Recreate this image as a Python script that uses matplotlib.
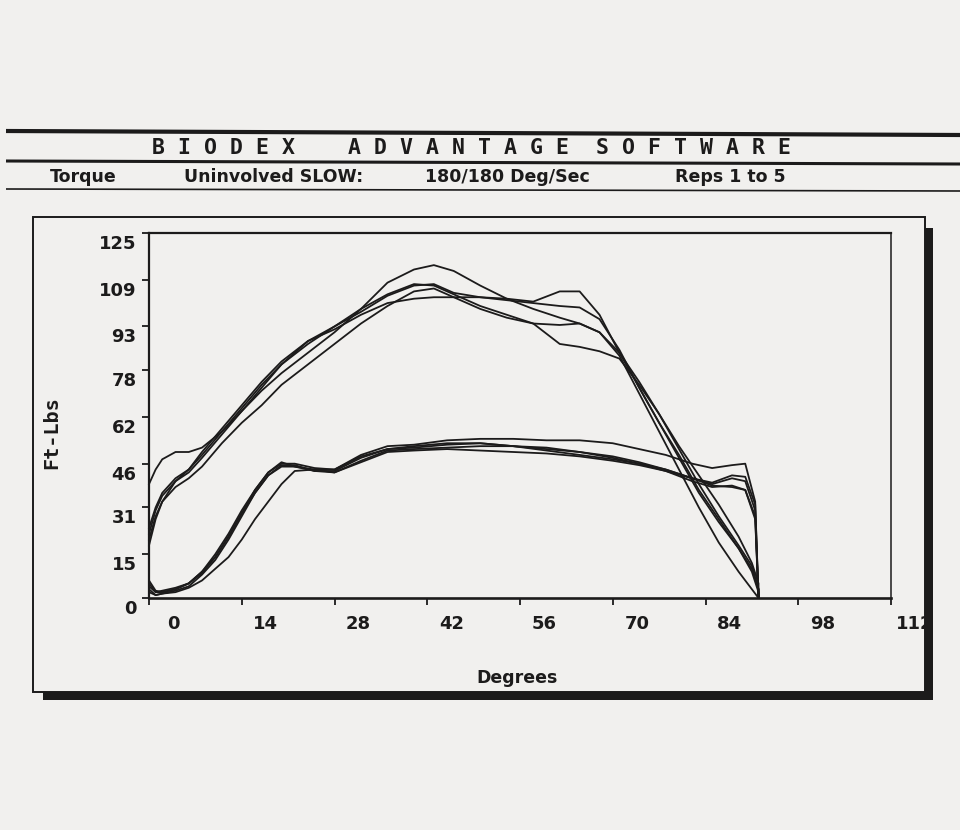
import matplotlib
matplotlib.use("Agg")
import matplotlib.pyplot as plt
import matplotlib.transforms as mtransforms
from matplotlib.patches import Rectangle
from matplotlib.lines import Line2D

# ---- text ----
BANNER_WORDS = ["B I O D E X", "A D V A N T A G E", "S O F T W A R E"]
SUBTITLE = ["Torque", "Uninvolved SLOW:", "180/180 Deg/Sec", "Reps 1 to 5"]
X_LABEL = "Degrees"
Y_LABEL = "Ft-Lbs"

X_TICKS = [0, 14, 28, 42, 56, 70, 84, 98, 112]
Y_TICKS = [0, 15, 31, 46, 62, 78, 93, 109, 125]

# ---- torque curves, reps 1-5 ----
# upper trace (higher torque) sampled along the range of motion
ANGLE_UP = [0, 1, 2, 4, 6, 8, 11, 14, 17, 20, 24, 28, 32, 36, 40, 43, 46,
            50, 54, 58, 62, 65, 68, 71, 74, 77, 80, 83, 86, 89, 91, 92]
UP_REP1 = [39, 44, 47.5, 50, 50, 51.5, 57, 64, 71, 77, 84, 91, 99, 108, 112.5, 114, 112,
           107, 102.5, 101.5, 105, 105, 97, 84, 72, 60, 48, 36, 26, 17, 10, 3]
UP_REP2 = [22, 30, 35, 40, 44, 49, 57, 65, 73, 80, 87, 93, 99, 104, 107.5, 107, 104,
           100, 97, 94, 87, 86, 84.5, 82, 73, 63, 52, 42, 32, 21, 12, 5]
UP_REP3 = [18, 27, 33, 40, 43, 48, 56, 64, 72, 80, 88, 93, 98, 103.5, 107, 107.5, 104.5,
           103, 102, 101, 100, 99.5, 95.5, 85, 72, 60, 49, 37, 27, 17, 9, 2]
UP_REP4 = [20, 28, 33, 38, 41, 45, 53, 60, 66, 73, 80, 87, 94, 100, 105, 106, 103,
           99, 96, 94, 93.5, 94, 91, 83, 70, 57, 44, 31, 19, 9, 3, 0]
UP_REP5 = [24, 31, 36, 41, 44, 50, 58, 66, 74, 81, 88, 92, 97, 101, 102.5, 103, 103,
           103, 102.5, 99, 96, 94, 91, 84, 74, 63, 51, 39, 28, 18, 11, 3]

# lower trace (lower torque) on the same angle scale
ANGLE_LO = [0, 1, 2, 4, 6, 8, 10, 12, 14, 16, 18, 20, 22, 25, 28, 32, 36, 40,
            45, 50, 55, 60, 65, 70, 74, 78, 82, 85, 88, 90, 91.5, 92]
LO_REP1 = [5, 2, 2, 3, 5, 9, 15, 22, 30, 37, 43, 46, 46, 44.5, 44, 49, 52, 52.5,
           54, 54.5, 54.5, 54, 54, 53, 51, 49, 46, 44.5, 45.5, 46, 33, 0]
LO_REP2 = [3, 1, 1.5, 2.5, 4, 8, 13, 20, 28, 36, 42, 45.5, 45.5, 43.5, 43, 47, 50.5, 51,
           51.5, 52, 52, 51.5, 50, 48.5, 46.5, 44, 41, 39, 41, 40, 30, 0]
LO_REP3 = [6, 2.5, 2, 3, 5, 9, 14, 21, 29, 37, 43, 46.5, 45, 43.5, 43.5, 48, 51, 51.5,
           52.5, 53, 52, 51, 50, 48, 46, 44, 41, 38.5, 38, 37, 28, 0]
LO_REP4 = [2, 1, 1.5, 2, 3.5, 6, 10, 14, 20, 27, 33, 39, 43.5, 44, 43, 46.5, 50, 50.5,
           51, 50.5, 50, 49.5, 48.5, 47, 45.5, 43.5, 40, 38, 38.5, 37, 27, 0]
LO_REP5 = [4, 2, 2.5, 3.5, 5, 8.5, 14, 21, 29, 36, 42, 45, 45, 44, 44, 48.5, 51, 52,
           53, 53, 52, 50.5, 49, 47.5, 46, 43.5, 41, 39.5, 42, 41.5, 32, 0]

UPPER = [UP_REP1, UP_REP2, UP_REP3, UP_REP4, UP_REP5]
LOWER = [LO_REP1, LO_REP2, LO_REP3, LO_REP4, LO_REP5]

# ---- figure ----
W, H = 960, 830
PAPER = "#f1f0ee"
INK = "#1c1b1b"

fig = plt.figure(figsize=(W / 100, H / 100), dpi=100, facecolor=PAPER)


def fx(x):
    return x / W


def fy(y):
    return 1 - y / H


def hline(x0, y0, x1, y1, lw):
    fig.add_artist(Line2D([fx(x0), fx(x1)], [fy(y0), fy(y1)], color=INK,
                          lw=lw, solid_capstyle="butt", transform=fig.transFigure))


# banner rules
hline(6, 131, 960, 135, 3.0)
hline(6, 161, 960, 164, 2.2)
hline(6, 189, 960, 191, 1.2)

mono = dict(family="DejaVu Sans Mono", weight="bold", color=INK)
sans = dict(family="DejaVu Sans", weight="bold", color=INK)

banner_centres = [224, 458, 693]
for word, cx in zip(BANNER_WORDS, banner_centres):
    fig.text(fx(cx), fy(148), word, ha="center", va="center", fontsize=15.5, **mono)

sub_starts = [50, 184, 425, 675]
for word, x0 in zip(SUBTITLE, sub_starts):
    fig.text(fx(x0), fy(177), word, ha="left", va="center", fontsize=12.5, **sans)

# outer frame with drop shadow
fig.add_artist(Rectangle((fx(925), fy(700)), fx(933) - fx(925), fy(228) - fy(700),
                         transform=fig.transFigure, color=INK, lw=0))
fig.add_artist(Rectangle((fx(43), fy(700)), fx(933) - fx(43), fy(692) - fy(700),
                         transform=fig.transFigure, color=INK, lw=0))
fig.add_artist(Rectangle((fx(33), fy(692)), fx(925) - fx(33), fy(217) - fy(692),
                         transform=fig.transFigure, fill=False, ec=INK, lw=1.4))

# plotting area
ax = fig.add_axes([fx(149), fy(598), fx(891) - fx(149), fy(233) - fy(598)])
ax.set_facecolor(PAPER)
ax.set_xlim(X_TICKS[0], X_TICKS[-1])
ax.set_ylim(Y_TICKS[0], Y_TICKS[-1])

for up, lo in zip(UPPER, LOWER):
    xs = ANGLE_UP + ANGLE_LO[::-1] + [ANGLE_UP[0]]
    ys = up + lo[::-1] + [up[0]]
    ax.plot(xs, ys, color=INK, lw=1.3, solid_joinstyle="round", clip_on=False)

for side, lw in (("left", 1.6), ("bottom", 1.9), ("top", 1.6), ("right", 1.1)):
    ax.spines[side].set_linewidth(lw)
    ax.spines[side].set_color(INK)

ax.set_xticks(X_TICKS)
ax.set_xticklabels([str(v) for v in X_TICKS])
ax.set_yticks(Y_TICKS)
ax.set_yticklabels([str(v) for v in Y_TICKS])
ax.tick_params(axis="both", direction="out", length=5, width=1.3, color=INK,
               labelcolor=INK, labelsize=13)
ax.tick_params(axis="x", pad=7)
ax.tick_params(axis="y", pad=4)

for lab in ax.get_xticklabels():
    lab.set_fontweight("bold")
    lab.set_transform(lab.get_transform() +
                      mtransforms.ScaledTranslation(0.24, 0, fig.dpi_scale_trans))
for lab in ax.get_yticklabels():
    lab.set_fontweight("bold")
    lab.set_transform(lab.get_transform() +
                      mtransforms.ScaledTranslation(0, -0.09, fig.dpi_scale_trans))

fig.text(fx(517), fy(678), X_LABEL, ha="center", va="center", fontsize=12.5, **sans)
fig.text(fx(52), fy(433), Y_LABEL, ha="center", va="center", rotation=90,
         fontsize=14.5, **mono)

fig.savefig("out.png", dpi=100, facecolor=PAPER)
